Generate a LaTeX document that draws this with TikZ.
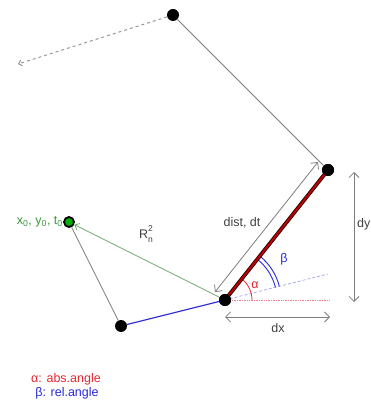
\documentclass[tikz,border=0pt]{standalone}
\usepackage{fontspec}
\setmainfont{Liberation Sans}
\usetikzlibrary{arrows.meta,calc}
\definecolor{lgrey}{RGB}{125,125,125}
\definecolor{lgreen}{RGB}{110,175,110}
\definecolor{tgreen}{RGB}{60,150,60}
\definecolor{lblue}{RGB}{40,40,220}
\definecolor{lred}{RGB}{230,40,50}
\tikzset{
  dot/.style={circle,fill=black,inner sep=0pt,minimum size=12pt},
  gdot/.style={circle,fill=green!70!black,draw=black,line width=1.8pt,inner sep=0pt,minimum size=10pt},
  greyline/.style={draw=lgrey,line width=0.8pt},
  dimarrow/.style={draw=lgrey,line width=0.8pt,{Straight Barb[length=5pt,width=10pt]}-{Straight Barb[length=5pt,width=10pt]}},
  lab/.style={inner sep=1pt,font=\fontsize{12.5}{14}\selectfont}
}
\begin{document}
\begin{tikzpicture}[x=1pt,y=1pt]
\useasboundingbox (0,0) rectangle (371,404);
\clip (0,0) rectangle (371,404);
% points
\coordinate (pA) at (173,389);
\coordinate (pB) at (328,234);
\coordinate (pC) at (69,182);
\coordinate (pD) at (121,78);
\coordinate (pE) at (225,104);
\coordinate (Q) at (18,340);
\coordinate (ds1) at (215,112);
\coordinate (ds2) at (318,242);
\coordinate (dy1) at (354,232);
\coordinate (dy2) at (354,102);
\coordinate (dx1) at (225,87);
\coordinate (dx2) at (330,87);
\coordinate (rdot) at (330,104);
\coordinate (bdot) at (328,130);
% helper lines
\draw[lred!60,densely dotted,line width=0.7pt] (pE) -- (rdot);
\draw[lblue!50,densely dashed,line width=0.6pt] (pE) -- (bdot);
% arcs
\draw[lred,line width=0.8pt] ($(pE)+(27,0)$) arc[start angle=0,end angle=51.6,radius=27];
\draw[lblue,line width=0.9pt] ($(pE)+(14:52)$) arc[start angle=14,end angle=51.6,radius=52];
\draw[lblue,line width=0.9pt] ($(pE)+(14:56)$) arc[start angle=14,end angle=51.6,radius=56];
% dots
\node[dot] (A) at (pA) {};
\node[dot] (B) at (pB) {};
\node[gdot] (C) at (pC) {};
\node[dot] (D) at (pD) {};
\node[dot] (E) at (pE) {};
% path
\draw[lgrey!80,line width=1pt,dashed,-{Straight Barb[length=3pt,width=6pt]}] (A) -- (Q);
\draw[greyline] (A) -- (B);
\draw[black!85!red,line width=3.8pt] (B.center) -- (E.center);
\draw[red!75!black,line width=2pt] (B.center) -- (E.center);
\draw[greyline] (C) -- (D);
\draw[lblue,line width=1.1pt] (D) -- (E);
\draw[lgreen,line width=0.8pt,-{Straight Barb[length=4pt,width=7pt]}] (E) -- (C);
\node[dot] at (pB) {};
\node[dot] at (pE) {};
% dimension arrows
\draw[dimarrow] (ds1) -- (ds2);
\draw[dimarrow] (dy1) -- (dy2);
\draw[dimarrow] (dx1) -- (dx2);
% labels
\node[lab,text=black!75] (tdist) at (242,181) {dist, dt};
\node[lab,text=black!75] (tdx) at (278,76) {dx};
\node[lab,text=black!75,anchor=east,inner sep=0.5pt] (tdy) at (371,180) {dy};
\node[lab,text=lred] (talpha) at (255,119) {α};
\node[lab,text=lblue] (tbeta) at (284,145) {β};
\node[lab,text=black!75] (tR) at (146,170) {R\makebox[0pt][l]{\raisebox{1ex}{\fontsize{8.5}{9}\selectfont 2}}\raisebox{-0.6ex}{\fontsize{8.5}{9}\selectfont n}};
\node[lab,text=tgreen,anchor=east] (tx0) at (64,182) {x\textsubscript{0}, y\textsubscript{0}, t\textsubscript{0}};
\node[lab,text=lred] (leg1) at (66,25) {α: abs.angle};
\node[lab,text=lblue] (leg2) at (67,11) {β: rel.angle};
\end{tikzpicture}
\end{document}
